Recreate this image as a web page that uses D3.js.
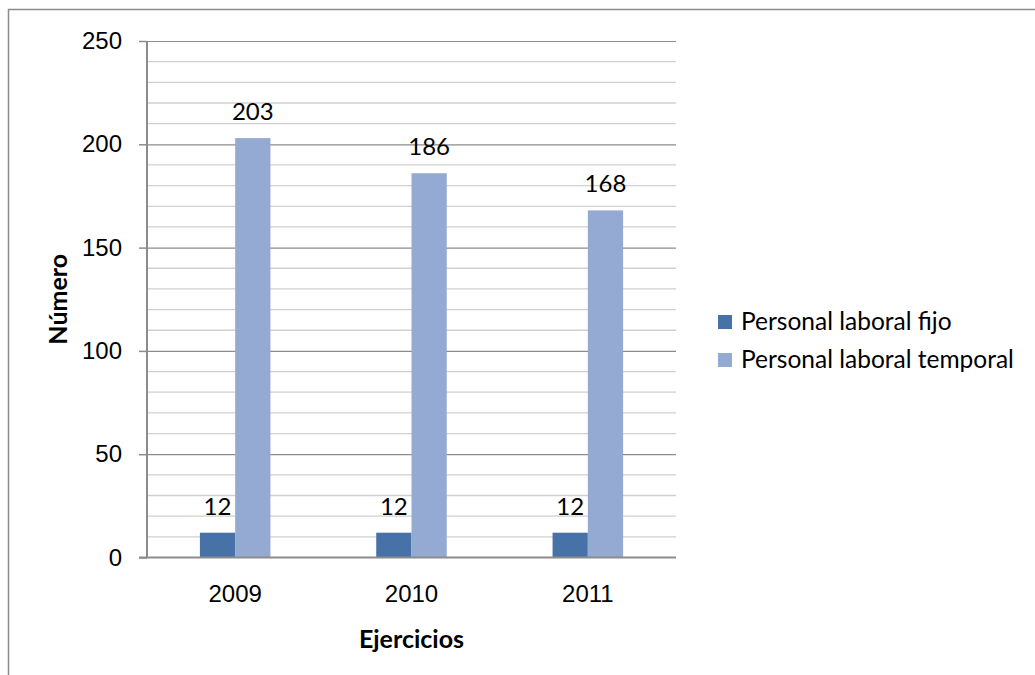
<!DOCTYPE html>
<html>
<head>
<meta charset="utf-8">
<script src="https://cdn.jsdelivr.net/npm/d3@7"></script>
<style>
  html, body { margin: 0; padding: 0; background: #fff; }
  svg { display: block; font-family: Lato, "Open Sans", sans-serif; }
</style>
</head>
<body>
<svg id="chart" width="1035" height="675"></svg>
<script>
var categories = ['2009', '2010', '2011'];
var seriesNames = ['Personal laboral fijo', 'Personal laboral temporal'];
var fijoValues = [12, 12, 12];
var temporalValues = [203, 186, 168];
var yTicks = [0, 50, 100, 150, 200, 250];
var yMinorTicks = d3.range(0, 251, 10);

var colors = ['#4672A8', '#95AAD2'];
var seriesValues = [fijoValues, temporalValues];

var svg = d3.select('#chart')
  , plot = { left: 147, right: 676, top: 41, bottom: 557.5 }
  , x0, x1, y, bandW;

x0 = d3.scaleBand().domain(categories).range([plot.left, plot.right]);
bandW = x0.bandwidth();
x1 = d3.scaleBand().domain(seriesNames).range([bandW * 0.3, bandW * 0.7]);
y = d3.scaleLinear().domain([0, 250]).range([plot.bottom, plot.top]);

// outer frame
svg.append('path')
  .attr('d', 'M8.5,676V9.5H1036')
  .attr('fill', 'none')
  .attr('stroke', '#8c8c8c')
  .attr('stroke-width', 1.5);

// minor gridlines
svg.append('g').selectAll('line')
  .data(yMinorTicks.filter(function (d) { return d % 50 !== 0; }))
  .enter().append('line')
    .attr('x1', plot.left).attr('x2', plot.right)
    .attr('y1', y).attr('y2', y)
    .attr('stroke', '#d0d0d0')
    .attr('stroke-width', 1.3);

// y axis with major gridlines
var yAxis = svg.append('g')
  .attr('transform', 'translate(' + plot.left + ',0)')
  .call(d3.axisLeft(y).tickValues(yTicks).tickSize(8).tickPadding(17));
yAxis.select('.domain').remove();
yAxis.selectAll('.tick line').attr('stroke', '#8c8c8c').attr('stroke-width', 1.5);
yAxis.selectAll('.tick').filter(function (d) { return d > 0; })
  .append('line')
    .attr('x1', 0).attr('x2', plot.right - plot.left)
    .attr('stroke', '#8c8c8c').attr('stroke-width', 1.2);
yAxis.selectAll('.tick text')
  .attr('fill', '#000')
  .style('font-size', '24px');
yAxis.append('line')
  .attr('x1', 0).attr('x2', 0)
  .attr('y1', plot.top).attr('y2', plot.bottom)
  .attr('stroke', '#8c8c8c').attr('stroke-width', 2);

// bars
var groups = svg.append('g').selectAll('g')
  .data(categories)
  .enter().append('g')
    .attr('transform', function (d) { return 'translate(' + x0(d) + ',0)'; });

groups.selectAll('rect')
  .data(function (d, i) {
    return seriesNames.map(function (s, j) { return { s: s, j: j, v: seriesValues[j][i] }; });
  })
  .enter().append('rect')
    .attr('x', function (d) { return x1(d.s); })
    .attr('width', x1.bandwidth())
    .attr('y', function (d) { return y(d.v); })
    .attr('height', function (d) { return y(0) - y(d.v); })
    .attr('fill', function (d) { return colors[d.j]; });

groups.selectAll('text')
  .data(function (d, i) {
    return seriesNames.map(function (s, j) { return { s: s, j: j, v: seriesValues[j][i] }; });
  })
  .enter().append('text')
    .attr('x', function (d) { return x1(d.s) + x1.bandwidth() / 2; })
    .attr('y', function (d) { return y(d.v) - 18; })
    .attr('text-anchor', 'middle')
    .style('font-size', '24px')
    .text(function (d) { return d.v; });

// x axis
var xAxis = svg.append('g')
  .attr('transform', 'translate(0,' + plot.bottom + ')')
  .call(d3.axisBottom(x0).tickSize(0).tickPadding(27));
xAxis.select('.domain').remove();
xAxis.selectAll('.tick text').attr('fill', '#000').style('font-size', '24px');
xAxis.append('line')
  .attr('x1', plot.left - 8).attr('x2', plot.right)
  .attr('stroke', '#8c8c8c').attr('stroke-width', 2);

// axis titles
svg.append('text')
  .attr('x', (plot.left + plot.right) / 2)
  .attr('y', 648)
  .attr('text-anchor', 'middle')
  .style('font-size', '25px').style('font-weight', 'bold')
  .text('Ejercicios');

svg.append('text')
  .attr('transform', 'translate(67,' + (plot.top + plot.bottom) / 2 + ') rotate(-90)')
  .attr('text-anchor', 'middle')
  .style('font-size', '25px').style('font-weight', 'bold')
  .text('Número');

// legend
var legend = svg.append('g').selectAll('g')
  .data(seriesNames)
  .enter().append('g')
    .attr('transform', function (d, i) { return 'translate(718,' + (315 + i * 38) + ')'; });
legend.append('rect')
  .attr('width', 14).attr('height', 14)
  .attr('fill', function (d, i) { return colors[i]; });
legend.append('text')
  .attr('x', 23).attr('y', 15)
  .style('font-size', '24.5px')
  .text(function (d) { return d; });
</script>
</body>
</html>
